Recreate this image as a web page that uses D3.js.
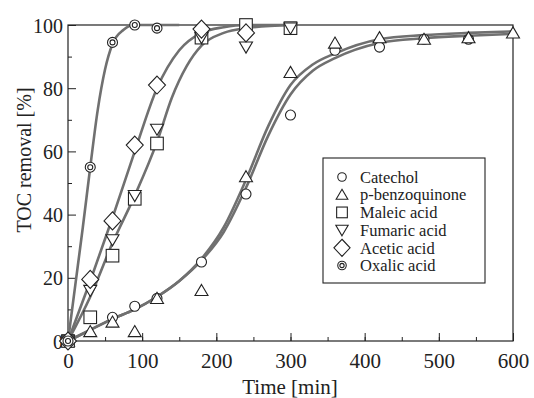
<!DOCTYPE html>
<html><head><meta charset="utf-8">
<script src="https://cdn.jsdelivr.net/npm/d3@7/dist/d3.min.js"></script>
<style>body{margin:0;background:#fff}svg{display:block}text{font-family:"Liberation Serif","Times New Roman",serif;fill:#222}</style>
</head><body><svg id="c" width="534" height="398"></svg>
<script>
// ---- data ----
const seriesNames = ["Catechol","p-benzoquinone","Maleic acid","Fumaric acid","Acetic acid","Oxalic acid"];
const catecholT = [0,60,90,120,180,240,300,360,420,480,540];
const catecholV = [0,7.5,11,13.5,25,46.5,71.5,92,93,95.5,95.5];
const benzoT = [0,30,60,90,120,180,240,300,360,420,480,540,600];
const benzoV = [0,3,6,3,13.5,16,52,85,94.3,96,95.5,96,97.5];
const maleicT = [0,30,60,90,120,180,240,300];
const maleicV = [0,7.5,27,45,62.5,96,100,99];
const fumaricT = [0,30,60,90,120,180,240,300];
const fumaricV = [0,16,32,46,67,96,93,99];
const aceticT = [0,30,60,90,120,180,240];
const aceticV = [0,19.5,38,62,81,98.7,97.5];
const oxalicT = [0,30,60,90,120];
const oxalicV = [0,55,94.5,100,99];
// fitted curves
const fitOxalicT = [0,10,20,30,40,50,60,75,90,120,150];
const fitOxalicV = [0,18,36,55,73,86,94,98.5,100,100,100];
const fitAceticT = [0,30,60,90,120,150,180,210,240,300];
const fitAceticV = [0,19,39,60,80,92,97.5,99.3,100,100];
const fitMaleicT = [0,30,60,90,120,140,160,180,210,240,300];
const fitMaleicV = [0,14,31,46,63,77,87,93.5,97.5,99,100];
const fitBenzoT = [0,30,60,90,120,150,180,210,240,270,300,330,360,420,480,540,600];
const fitBenzoV = [0,3.5,7,10,14,19,26,36,51,68,81,87.5,91,95.5,96.8,97.5,98];
const fitCatecholT = [0,30,60,90,120,150,180,210,240,270,300,330,360,420,480,540,600];
const fitCatecholV = [0,3.5,7,10,14,19,25.5,34.5,48.5,65,78,85.5,89.5,94.3,95.8,96.6,97.2];
const xTicks = [0,100,200,300,400,500,600];
const yTicks = [0,20,40,60,80,100];

// ---- layout ----
const svg = d3.select("#c");
const x = d3.scaleLinear().domain([0,600]).range([68,513]);
const y = d3.scaleLinear().domain([0,100]).range([341,25]);

// frame
svg.append("rect").attr("x",68).attr("y",25).attr("width",445).attr("height",316)
  .attr("fill","none").attr("stroke","#222").attr("stroke-width",1.2);

// x ticks (inward)
const gx = svg.append("g").attr("transform","translate(0,341)");
gx.call(d3.axisBottom(x).tickValues(d3.range(50,600,50)).tickSize(-4).tickFormat(""))
  .call(g=>{g.select(".domain").remove();g.selectAll("line").attr("stroke","#222");});
const gx2 = svg.append("g").attr("transform","translate(0,341)");
gx2.call(d3.axisBottom(x).tickValues(xTicks).tickSize(-8).tickPadding(0).tickFormat(d3.format("d")))
  .call(g=>{g.select(".domain").remove();g.selectAll("line").attr("stroke","#222");
    g.selectAll("text").attr("font-size",21).attr("y",27).attr("dy",0)
     .style("font-family","Liberation Serif").attr("fill","#333");});
// y ticks (inward)
const gy = svg.append("g").attr("transform","translate(68,0)");
gy.call(d3.axisLeft(y).tickValues(d3.range(10,100,20)).tickSize(-4).tickFormat(""))
  .call(g=>{g.select(".domain").remove();g.selectAll("line").attr("stroke","#222");});
const gy2 = svg.append("g").attr("transform","translate(68,0)");
gy2.call(d3.axisLeft(y).tickValues(yTicks).tickSize(-8).tickFormat(d3.format("d")))
  .call(g=>{g.select(".domain").remove();g.selectAll("line").attr("stroke","#222");
    g.selectAll("text").attr("font-size",20).attr("x",-5).attr("dy","0.35em")
     .style("font-family","Liberation Serif").attr("fill","#333");});

// axis titles
svg.append("text").attr("x",290).attr("y",394).attr("text-anchor","middle")
  .attr("font-size",21).attr("fill","#333").text("Time [min]");
svg.append("text").attr("transform","translate(31,160) rotate(-90)").attr("text-anchor","middle")
  .attr("font-size",20).attr("fill","#333").text("TOC removal [%]");

// curves
const line = d3.line().x(d=>x(d[0])).y(d=>y(d[1])).curve(d3.curveMonotoneX);
const fits = [[fitCatecholT,fitCatecholV],[fitBenzoT,fitBenzoV],[fitMaleicT,fitMaleicV],[fitAceticT,fitAceticV],[fitOxalicT,fitOxalicV]];
fits.forEach(([t,v])=>{
  svg.append("path").datum(t.map((d,i)=>[d,v[i]])).attr("d",line)
    .attr("fill","none").attr("stroke","#707070").attr("stroke-width",2.6);
});

// markers
function drawMarker(g, type, cx, cy, s){
  const st = {fill:"#fff", stroke:"#222", "stroke-width":1.1};
  let el;
  if(type==="circle"){ el=g.append("circle").attr("cx",cx).attr("cy",cy).attr("r",5*s); }
  else if(type==="dcircle"){
    el=g.append("circle").attr("cx",cx).attr("cy",cy).attr("r",5*s);
    Object.entries(st).forEach(([k,v])=>el.attr(k,v));
    el=g.append("circle").attr("cx",cx).attr("cy",cy).attr("r",2.5*s);
  }
  else if(type==="square"){ const h=6.3*s; el=g.append("rect").attr("x",cx-h).attr("y",cy-h).attr("width",2*h).attr("height",2*h); }
  else if(type==="tri"){ const w=6.5*s,h=6*s; el=g.append("path").attr("d",`M${cx},${cy-h}L${cx+w},${cy+h*0.85}L${cx-w},${cy+h*0.85}Z`); }
  else if(type==="dtri"){ const w=6.5*s,h=6*s; el=g.append("path").attr("d",`M${cx},${cy+h}L${cx+w},${cy-h*0.85}L${cx-w},${cy-h*0.85}Z`); }
  else if(type==="diamond"){ const w=8.5*s,h=9*s; el=g.append("path").attr("d",`M${cx},${cy-h}L${cx+w},${cy}L${cx},${cy+h}L${cx-w},${cy}Z`); }
  Object.entries(st).forEach(([k,v])=>el.attr(k,v));
}
const types = ["circle","tri","square","dtri","diamond","dcircle"];
const pts = [[catecholT,catecholV],[benzoT,benzoV],[maleicT,maleicV],[fumaricT,fumaricV],[aceticT,aceticV],[oxalicT,oxalicV]];
const gm = svg.append("g");
pts.forEach(([t,v],k)=>{ t.forEach((d,i)=>drawMarker(gm,types[k],x(d),y(v[i]),1)); });

// legend
const lg = svg.append("g");
lg.append("rect").attr("x",323).attr("y",158).attr("width",162).attr("height",125)
  .attr("fill","#fff").attr("stroke","#222").attr("stroke-width",1.1);
const lgScale = [0.85,0.9,0.85,0.95,0.95,0.85];
seriesNames.forEach((n,i)=>{
  const cy = 177 + i*17.7;
  drawMarker(lg, types[i], 342, cy, lgScale[i]);
  lg.append("text").attr("x",360).attr("y",cy).attr("dy","0.35em")
    .attr("font-size",16.5).attr("fill","#333").text(n);
});
</script></body></html>
